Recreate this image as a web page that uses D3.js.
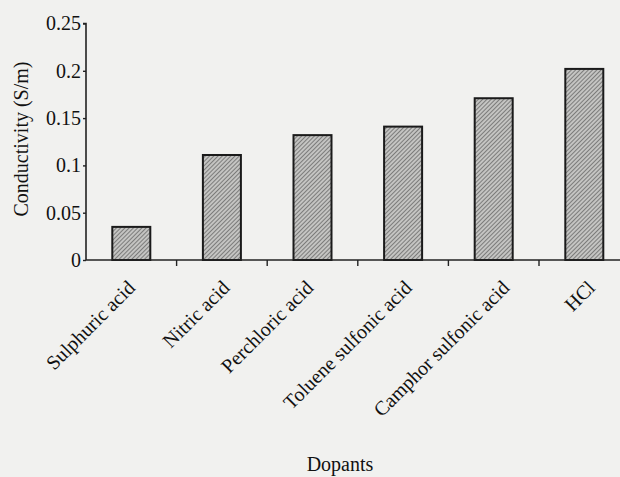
<!DOCTYPE html>
<html><head><meta charset="utf-8">
<script src="https://cdn.jsdelivr.net/npm/d3@7"></script>
<style>
html,body{margin:0;padding:0;background:#f1f1ef;}
svg{display:block;}
text{font-family:"Liberation Serif","Times New Roman",serif;fill:#111;}
</style></head>
<body>
<svg id="chart" width="620" height="477"></svg>
<script>
const categories = ["Sulphuric acid","Nitric acid","Perchloric acid","Toluene sulfonic acid","Camphor sulfonic acid","HCl"];
const conductivity = [0.035, 0.111, 0.132, 0.141, 0.171, 0.202];
const yTicks = [0, 0.05, 0.1, 0.15, 0.2, 0.25];
const yTickLabels = ["0", "0.05", "0.1", "0.15", "0.2", "0.25"];
const xTitle = "Dopants";
const yTitle = "Conductivity (S/m)";

// layout-only nudges for the rotated category labels (px)
const labelDx = [5, 9, 2, 10, 17, 12];

const svg = d3.select("#chart");
const W = 620, H = 477;
svg.append("rect").attr("width", W).attr("height", H).attr("fill", "#f1f1ef");

const defs = svg.append("defs");
const pat = defs.append("pattern").attr("id","hatch").attr("patternUnits","userSpaceOnUse")
  .attr("width",3).attr("height",3).attr("patternTransform","rotate(45)");
pat.append("rect").attr("width",3).attr("height",3).attr("fill","#c4c4c2");
pat.append("line").attr("x1",0).attr("y1",0).attr("x2",0).attr("y2",3)
  .attr("stroke","#555").attr("stroke-width",1.3);

const x0 = 86, y0 = 260;
const x = d3.scaleBand().domain(categories).range([x0, x0 + 90.6*6]).paddingInner(0).paddingOuter(0);
const y = d3.scaleLinear().domain([0, 0.25]).range([y0, 23.5]);

const bw = 38;
svg.append("g").selectAll("rect").data(categories).join("rect")
  .attr("x", d => x(d) + x.bandwidth()/2 - bw/2)
  .attr("y", (d,i) => y(conductivity[i]))
  .attr("width", bw)
  .attr("height", (d,i) => y(0) - y(conductivity[i]))
  .attr("fill", "url(#hatch)")
  .attr("stroke", "#1a1a1a").attr("stroke-width", 2);

// y axis
const yAxis = d3.axisLeft(y).tickValues(yTicks).tickFormat((d,i) => yTickLabels[i]).tickSize(3).tickPadding(2);
const gy = svg.append("g").attr("transform", `translate(${x0},0)`).call(yAxis);
gy.select(".domain").attr("stroke","#222").attr("stroke-width",1.6).attr("d", `M-3,${y(0.25)}H0V${y0}`);
gy.selectAll(".tick line").attr("stroke","#222").attr("stroke-width",1.4);
gy.selectAll(".tick text").attr("font-size", 20).attr("font-family", "Liberation Serif").attr("fill","#111");

// x axis
const gx = svg.append("g").attr("transform", `translate(0,${y0})`);
gx.append("line").attr("x1", x0).attr("x2", x0 + 90.6*6).attr("y1",0).attr("y2",0)
  .attr("stroke","#222").attr("stroke-width",1.6);
const boundaries = categories.slice(1).map(c => x(c));
gx.selectAll("line.t").data(boundaries).join("line").attr("class","t")
  .attr("x1", d => d).attr("x2", d => d).attr("y1", 0).attr("y2", 6)
  .attr("stroke","#222").attr("stroke-width",1.4);
gx.selectAll("text.cat").data(categories).join("text").attr("class","cat")
  .attr("transform", (d,i) => `translate(${x(d) + x.bandwidth()/2 + labelDx[i]},${29}) rotate(-45)`)
  .attr("text-anchor","end").attr("font-size", 20).text(d => d);

svg.append("text").attr("x", 340).attr("y", 471).attr("text-anchor","middle")
  .attr("font-size", 20).text(xTitle);
svg.append("text").attr("transform", `translate(28,139) rotate(-90)`).attr("text-anchor","middle")
  .attr("font-size", 20).text(yTitle);
</script>
</body></html>
